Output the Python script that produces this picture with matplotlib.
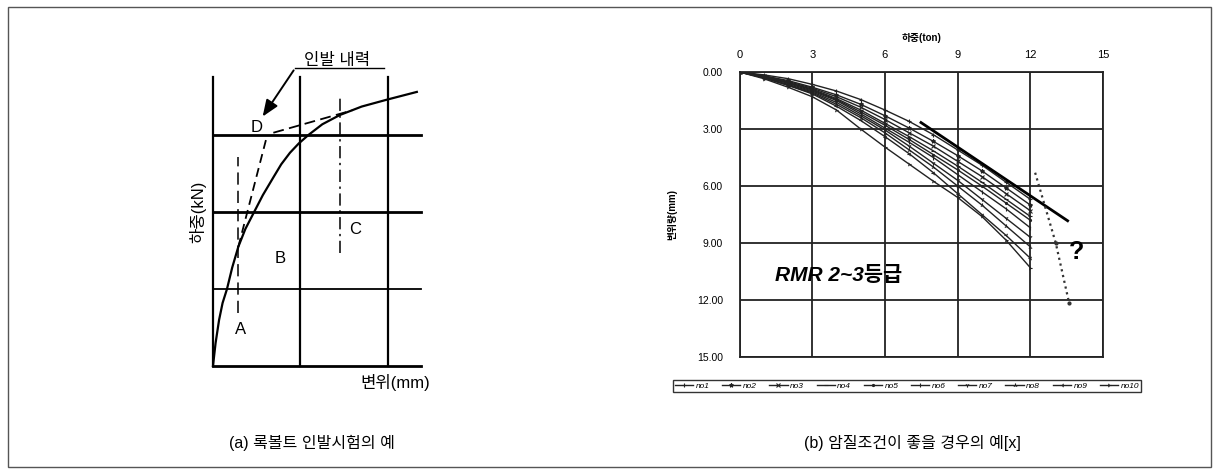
import numpy as np
import matplotlib
matplotlib.use("Agg")
import matplotlib.pyplot as plt
from matplotlib.patches import Rectangle

plt.rcParams["font.family"] = ["Liberation Sans", "Noto Sans CJK KR"]

W, H = 1220, 476

# ---- (a) pull-out test schematic (x: grid units, y: grid units) ----
grid_x = [0, 1, 2]
grid_y = [0, 1, 2, 3]
curve_x = [0, 0.03, 0.07, 0.11, 0.16, 0.22, 0.29, 0.37, 0.47, 0.57, 0.69,
           0.78, 0.88, 0.98, 1.09, 1.25, 1.45, 1.7, 1.99, 2.33]
curve_y = [0, 0.3, 0.6, 0.82, 1.0, 1.28, 1.55, 1.78, 2.0, 2.22, 2.45,
           2.62, 2.77, 2.89, 3.0, 3.14, 3.26, 3.37, 3.46, 3.56]
line_a = ([0.29, 0.29], [0.69, 2.71])
line_c = ([1.45, 1.45], [1.47, 3.49])
tangent_steep = ([0.29, 0.62], [1.55, 3.0])
tangent_flat = ([0.69, 1.59], [3.03, 3.32])

# ---- (b) field test curves: load (ton) vs displacement (mm) ----
load = [0, 1, 2, 3, 4, 5, 6, 7, 8, 9, 10, 11, 12]
series = {
    "no1": [0, 0.15, 0.35, 0.65, 1.0, 1.45, 2.0, 2.6, 3.3, 4.1, 4.9, 5.8, 6.7],
    "no2": [0, 0.2, 0.45, 0.8, 1.2, 1.7, 2.3, 2.95, 3.65, 4.4, 5.2, 6.1, 7.0],
    "no3": [0, 0.2, 0.5, 0.85, 1.3, 1.85, 2.5, 3.2, 3.9, 4.7, 5.5, 6.4, 7.3],
    "no4": [0, 0.25, 0.55, 0.9, 1.4, 2.0, 2.7, 3.4, 4.15, 4.95, 5.8, 6.7, 7.6],
    "no5": [0, 0.25, 0.55, 0.95, 1.45, 2.1, 2.8, 3.55, 4.35, 5.15, 6.0, 6.9, 7.8],
    "no6": [0, 0.25, 0.6, 1.0, 1.5, 2.2, 2.95, 3.7, 4.5, 5.4, 6.3, 7.2, 8.2],
    "no7": [0, 0.3, 0.65, 1.05, 1.6, 2.3, 3.05, 3.9, 4.8, 5.7, 6.7, 7.7, 8.7],
    "no8": [0, 0.3, 0.7, 1.1, 1.7, 2.4, 3.2, 4.1, 5.0, 6.0, 7.0, 8.1, 9.2],
    "no9": [0, 0.3, 0.7, 1.15, 1.8, 2.55, 3.4, 4.3, 5.3, 6.4, 7.5, 8.6, 9.8],
    "no10": [0, 0.35, 0.8, 1.3, 2.0, 3.0, 3.95, 4.85, 5.75, 6.6, 7.6, 8.85, 10.3],
}
markers = ["+", "*", "x", "_", ".", "|", "1", "2", "3", "4"]
trend_x, trend_y = [7.49, 13.54], [2.66, 7.83]
dotted_x, dotted_y = [12.2, 13.05, 13.6], [5.3, 9.0, 12.15]
ticks = [0, 3, 6, 9, 12, 15]


def frac(x0, y0, x1, y1):
    return [x0 / W, 1 - y1 / H, (x1 - x0) / W, (y1 - y0) / H]


fig = plt.figure(figsize=(W / 100, H / 100), dpi=100)
fig.add_artist(Rectangle((8 / W, 1 - 467 / H), 1203 / W, 460 / H,
                         transform=fig.transFigure, fill=False, ec="#555", lw=1))

# panel (a)
ax = fig.add_axes(frac(170, 40, 450, 400))
ax.set_xlim(-0.491, 2.709)
ax.set_ylim(-0.44, 4.234)
ax.axis("off")
for gx in grid_x:
    ax.plot([gx, gx], [0, 3.75], color="k", lw=1.6)
for gy in grid_y:
    ax.plot([0, 2.38], [gy, gy], color="k", lw=2.0 if gy != 1 else 1.3)
ax.plot(curve_x, curve_y, color="k", lw=1.6, solid_joinstyle="round")
ax.plot(*line_a, color="k", lw=1.1, dashes=(8, 4))
ax.plot(*line_c, color="k", lw=1.1, dashes=(8, 3, 1.5, 3))
ax.plot(*tangent_steep, color="k", lw=1.3, dashes=(5, 3))
ax.plot(*tangent_flat, color="k", lw=1.3, dashes=(6, 3))
ax.plot([0.94, 1.95], [3.87, 3.87], color="k", lw=1)
ax.annotate("", xy=(0.55, 3.21), xytext=(0.94, 3.87),
            arrowprops=dict(arrowstyle="-|>,head_length=1.0,head_width=0.4",
                            color="k", lw=1.4))
ax.text(1.42, 3.97, "인발 내력", ha="center", va="center", fontsize=12)
for lab, (lx, ly) in {"A": (0.31, 0.47), "B": (0.77, 1.40),
                      "C": (1.62, 1.77), "D": (0.50, 3.10)}.items():
    ax.text(lx, ly, lab, ha="center", va="center", fontsize=12)
ax.text(-0.17, 2.0, "하중(kN)", rotation=90, ha="center", va="center", fontsize=12)
ax.text(2.08, -0.21, "변위(mm)", ha="center", va="center", fontsize=12)

# panel (b)
bx = fig.add_axes(frac(739.5, 72, 1103, 357))
for i, (name, d) in enumerate(series.items()):
    bx.plot(load, d, color="#222", lw=1.0, marker=markers[i], ms=3, mew=0.8,
            label=name)
bx.plot(trend_x, trend_y, color="k", lw=2.0)
bx.plot(dotted_x, dotted_y, color="#333", lw=1.6, ls=":", marker=".", ms=4,
        markevery=[1, 2])
bx.set_xlim(0, 15)
bx.set_ylim(15, 0)
bx.set_xticks(ticks)
bx.set_yticks(ticks)
bx.set_yticklabels([f"{t:.2f}" for t in ticks])
bx.xaxis.tick_top()
bx.tick_params(axis="x", length=0, pad=9, labelsize=8)
bx.tick_params(axis="y", length=0, pad=12, labelsize=7.5)
bx.grid(True, color="#222", lw=1.3)
for s in bx.spines.values():
    s.set_linewidth(1.3)
    s.set_color("#222")
bx.text(0.5, 1.12, "하중(ton)", transform=bx.transAxes, ha="center",
        va="center", fontsize=7, fontweight="bold")
bx.set_ylabel("변위량(mm)", fontsize=7, fontweight="bold", labelpad=14)
bx.text(1.45, 10.7, "RMR 2~3등급", fontsize=15, fontweight="bold",
        fontstyle="italic", va="center")
bx.text(13.9, 9.45, "?", fontsize=18, fontweight="bold", ha="center", va="center")

fig.legend(loc="center", bbox_to_anchor=(907 / W, 1 - 386 / H), ncol=10,
           handlelength=2.2, handletextpad=0.3, columnspacing=1.5,
           borderpad=0.25, frameon=True, fancybox=False, edgecolor="k",
           prop={"style": "italic", "size": 6})

fig.text(312 / W, 1 - 443 / H, "(a) 록볼트 인발시험의 예", ha="center",
         va="center", fontsize=11.5)
fig.text(912 / W, 1 - 443 / H, "(b) 암질조건이 좋을 경우의 예[x]", ha="center",
         va="center", fontsize=11.5)

fig.savefig("out.png", dpi=100)
